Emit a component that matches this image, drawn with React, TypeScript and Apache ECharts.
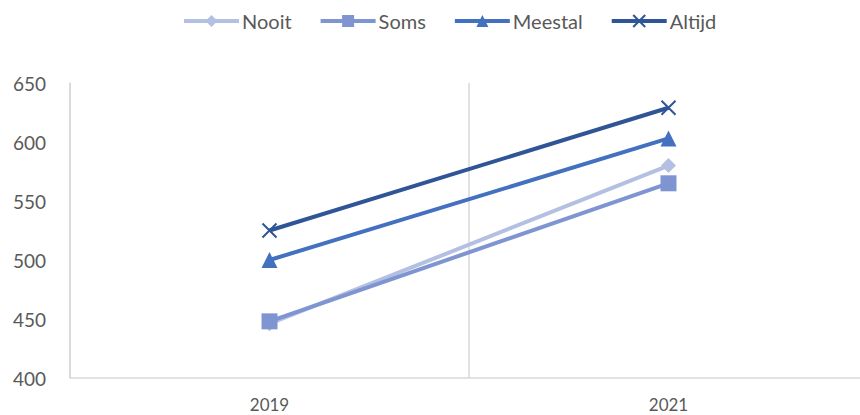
import React, { useEffect, useRef } from "react";
import * as echarts from "echarts";

const categories = ["2019", "2021"];
const nooit = [446, 580];
const soms = [448, 565];
const meestal = [500, 603];
const altijd = [525, 629];
const seriesNames = ["Nooit", "Soms", "Meestal", "Altijd"];
const colors = ["#b4c0e2", "#7f95d1", "#4470c0", "#2f5597"];

export default function App() {
  const ref = useRef<HTMLDivElement>(null);
  useEffect(() => {
    const chart = echarts.init(ref.current!, undefined, { renderer: "svg" });
    const data = [nooit, soms, meestal, altijd];
    const symbols = ["diamond", "rect", "triangle", "path://M0,0L10,10M10,0L0,10"];
    const sizes = [15, 16, 16, 14];
    chart.setOption({
      animation: false,
      textStyle: { fontFamily: "Lato" },
      legend: {
        top: 6,
        left: 177,
        itemWidth: 55,
        itemHeight: 15,
        itemGap: 27,
        lineStyle: { width: 4 },
        textStyle: { fontSize: 20, color: "#595959", fontFamily: "Lato", padding: [0, 0, 0, -2] },
        data: seriesNames,
      },
      grid: { left: 70, right: 0, top: 83, bottom: 37, containLabel: false },
      xAxis: {
        type: "category",
        data: categories,
        boundaryGap: true,
        axisLine: { lineStyle: { color: "#d9d9d9", width: 1.5 } },
        axisTick: { show: false },
        splitLine: { show: true, lineStyle: { color: "#d9d9d9", width: 1.5 } },
        axisLabel: { fontSize: 17, color: "#595959", margin: 18, fontFamily: "Lato" },
      },
      yAxis: {
        type: "value",
        min: 400,
        max: 650,
        interval: 50,
        axisLine: { show: true, lineStyle: { color: "#d9d9d9", width: 1.5 } },
        axisTick: { show: false },
        splitLine: { show: false },
        axisLabel: { fontSize: 19, color: "#595959", margin: 24, fontFamily: "Lato" },
      },
      series: seriesNames.map((name, i) => ({
        name,
        type: "line",
        data: data[i],
        symbol: symbols[i],
        symbolSize: sizes[i],
        showAllSymbol: true,
        lineStyle: { color: colors[i], width: 4 },
        itemStyle:
          i === 3
            ? { color: colors[i], borderColor: colors[i], borderWidth: 2 }
            : { color: colors[i], borderWidth: 0 },
      })),
    });
    return () => chart.dispose();
  }, []);
  return (
    <div
      style={{ position: "absolute", left: 0, top: 0, width: 860, height: 415, overflow: "hidden" }}
    >
      <div ref={ref} style={{ width: 868, height: 415 }} />
    </div>
  );
}
